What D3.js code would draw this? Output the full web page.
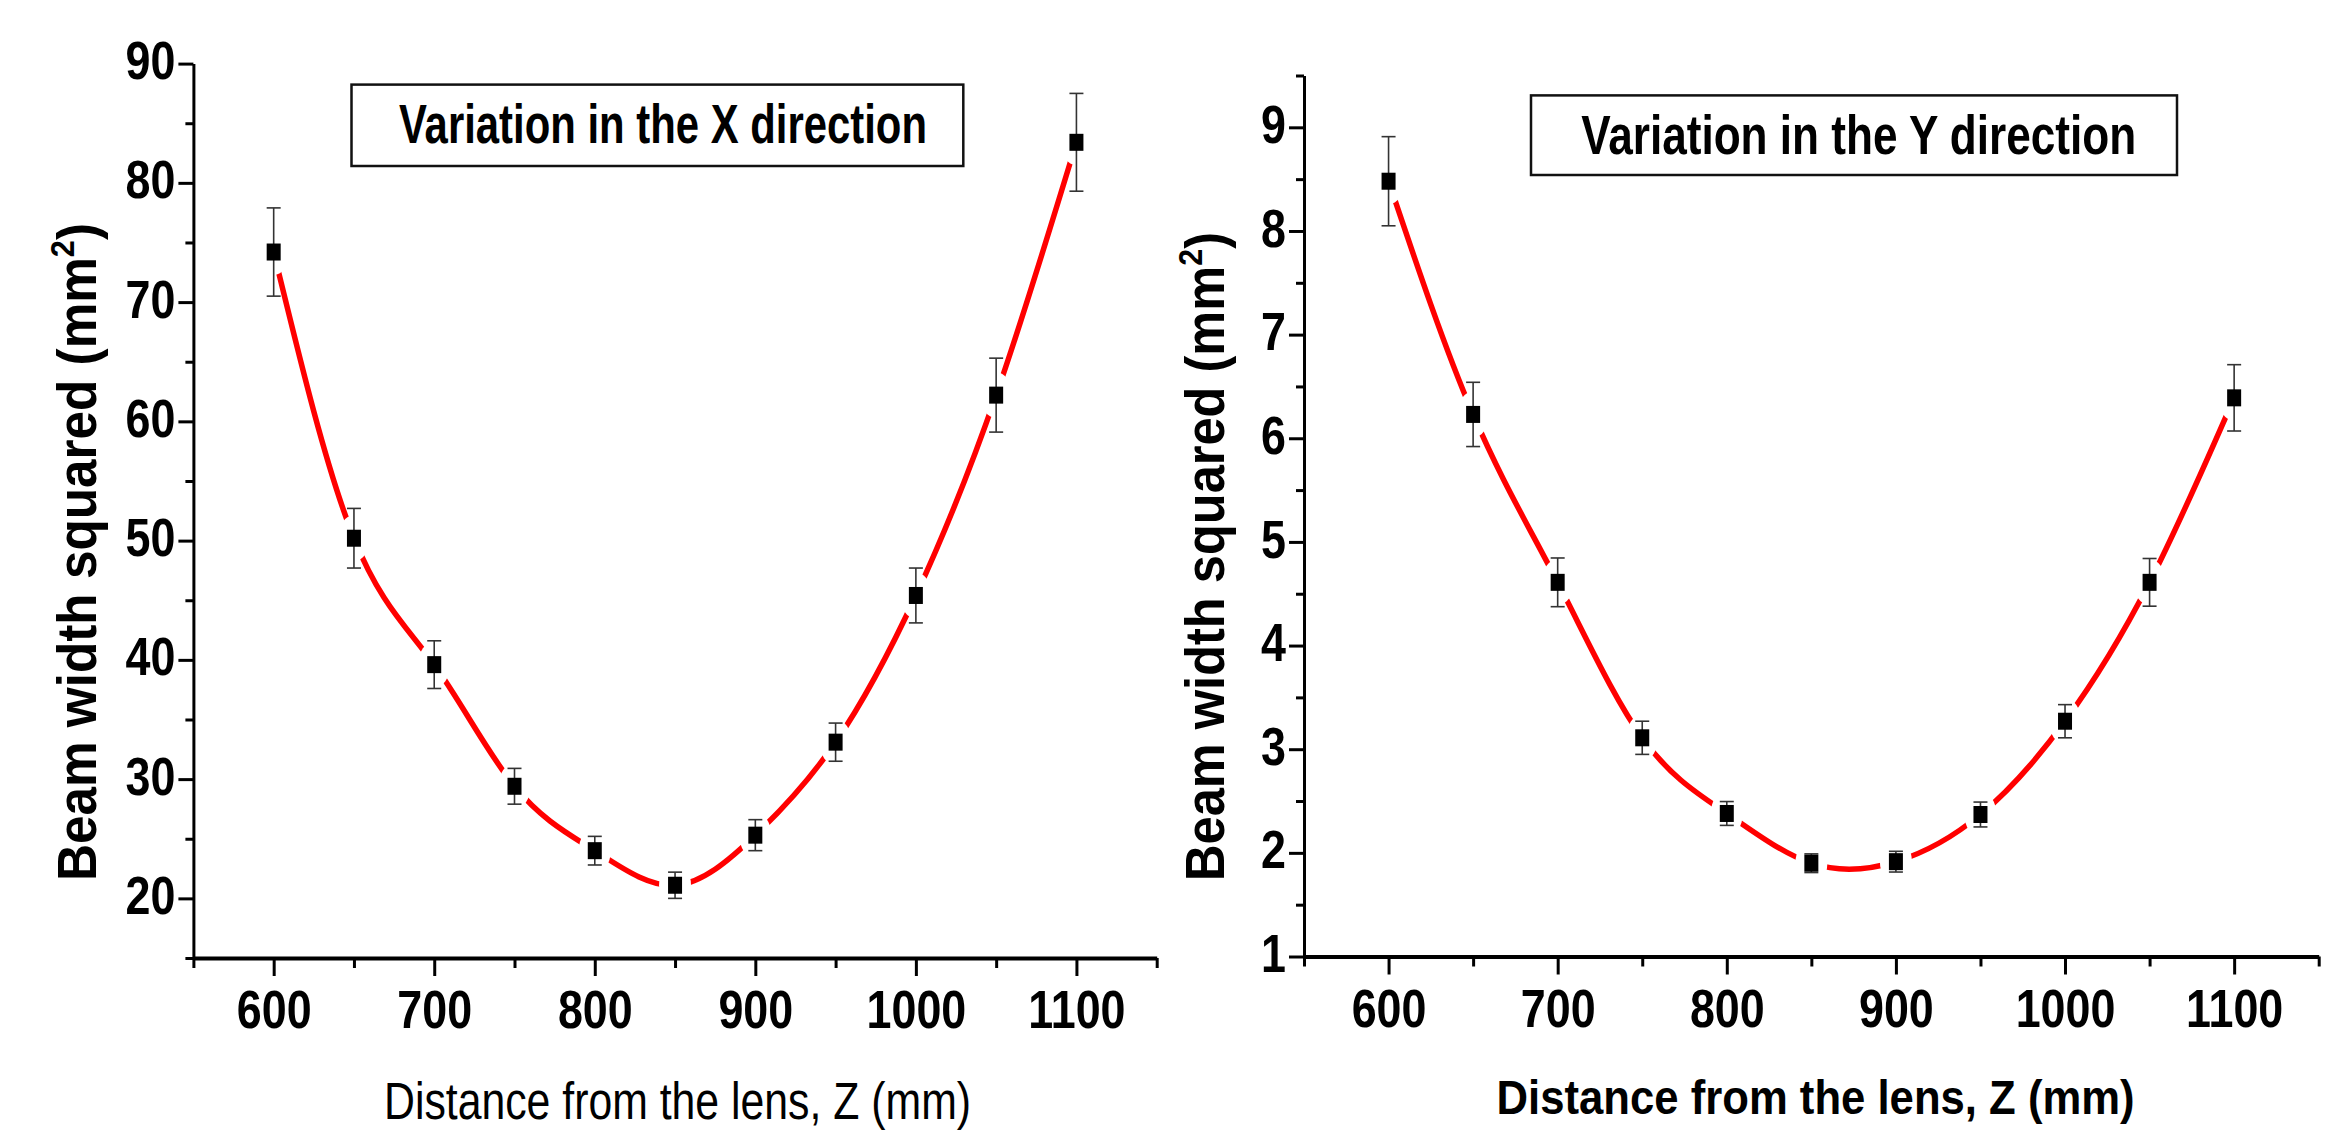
<!DOCTYPE html>
<html>
<head>
<meta charset="utf-8">
<script src="https://cdn.jsdelivr.net/npm/d3@7"></script>
<style>
  html, body { margin: 0; padding: 0; background: #fff; }
  svg { display: block; }
</style>
</head>
<body>
<svg id="chart" width="2347" height="1134"></svg>
<script>
// ---------- DATA ----------
const zPoints = [600, 650, 700, 750, 800, 850, 900, 950, 1000, 1050, 1100];

const xDirValues = [74.2, 50.2, 39.6, 29.4, 24.0, 21.1, 25.3, 33.1, 45.4, 62.2, 83.4];
const xDirErrors = [3.7, 2.5, 2.0, 1.5, 1.2, 1.1, 1.3, 1.6, 2.3, 3.1, 4.1];

const yDirValues = [8.48, 6.23, 4.61, 3.11, 2.38, 1.90, 1.915, 2.37, 3.27, 4.61, 6.39];
const yDirErrors = [0.43, 0.31, 0.235, 0.16, 0.115, 0.09, 0.10, 0.12, 0.16, 0.23, 0.32];

const xTickMajor = [600, 700, 800, 900, 1000, 1100];
const xTickMinor = [550, 650, 750, 850, 950, 1050, 1150];
const leftYMajor = [20, 30, 40, 50, 60, 70, 80, 90];
const leftYMinor = [15, 25, 35, 45, 55, 65, 75, 85];
const rightYMajor = [1, 2, 3, 4, 5, 6, 7, 8, 9];
const rightYMinor = [1.5, 2.5, 3.5, 4.5, 5.5, 6.5, 7.5, 8.5, 9.5];

const titleLeft = "Variation in the X direction";
const titleRight = "Variation in the Y direction";
const xAxisTitle = "Distance from the lens, Z (mm)";
const yAxisTitle = "Beam width squared (mm";

// ---------- DRAWING ----------
const svg = d3.select("#chart");
const FONT = "'Liberation Sans', Arial, sans-serif";
const NARROW_FACTOR = 0.83;

function narrow(sel, factor) {
  sel.each(function () {
    const w = this.getComputedTextLength();
    d3.select(this).attr("textLength", w * (factor || NARROW_FACTOR)).attr("lengthAdjust", "spacingAndGlyphs");
  });
}

function panel(cfg) {
  const x = d3.scaleLinear().domain([550, 1150]).range(cfg.xr);
  const y = d3.scaleLinear().domain(cfg.yDomain).range(cfg.yr);
  const g = svg.append("g");
  const x0 = cfg.xr[0], y0 = cfg.yr[0];

  // spline through the points
  const pts = zPoints.map((z, i) => [z, cfg.values[i]]);
  g.append("path").datum(pts)
    .attr("fill", "none").attr("stroke", "#ff0000").attr("stroke-width", 5.5)
    .attr("stroke-linecap", "round").attr("stroke-linejoin", "round")
    .attr("d", d3.line().x(d => x(d[0])).y(d => y(d[1])).curve(d3.curveNatural));

  // gaps around the symbols
  g.append("g").selectAll("ellipse").data(zPoints).enter().append("ellipse")
    .attr("cx", d => x(d)).attr("cy", (d, i) => y(cfg.values[i]))
    .attr("rx", 16).attr("ry", 23).attr("fill", "#fff");

  // minor ticks
  g.append("g").attr("transform", `translate(0,${y0})`)
    .call(d3.axisBottom(x).tickValues(xTickMinor).tickSize(10).tickFormat("").tickSizeOuter(0))
    .call(a => a.select(".domain").remove())
    .selectAll("line").attr("stroke", "#000").attr("stroke-width", 3);
  g.append("g").attr("transform", `translate(${x0},0)`)
    .call(d3.axisLeft(y).tickValues(cfg.yMinor).tickSize(8).tickFormat("").tickSizeOuter(0))
    .call(a => a.select(".domain").remove())
    .selectAll("line").attr("stroke", "#000").attr("stroke-width", 3);

  // major axes
  const xa = g.append("g").attr("transform", `translate(0,${y0})`)
    .call(d3.axisBottom(x).tickValues(xTickMajor).tickSize(18).tickPadding(14)
      .tickFormat(d3.format("d")).tickSizeOuter(0));
  xa.select(".domain").attr("stroke", "#000").attr("stroke-width", 4);
  xa.selectAll("line").attr("stroke", "#000").attr("stroke-width", 3);
  xa.selectAll("text").attr("fill", "#000").attr("font-family", FONT)
    .attr("font-weight", "bold").attr("font-size", 54).call(narrow);

  const ya = g.append("g").attr("transform", `translate(${x0},0)`)
    .call(d3.axisLeft(y).tickValues(cfg.yMajor).tickSize(15).tickPadding(3)
      .tickFormat(d3.format("d")).tickSizeOuter(0));
  ya.select(".domain").attr("stroke", "#000").attr("stroke-width", 3);
  ya.selectAll("line").attr("stroke", "#000").attr("stroke-width", 3);
  ya.selectAll("text").attr("fill", "#000").attr("font-family", FONT)
    .attr("font-weight", "bold").attr("font-size", 54).attr("dy", "0.28em").call(narrow);

  // error bars
  const eb = g.append("g").attr("stroke", "#333").attr("stroke-width", 1.6);
  zPoints.forEach((z, i) => {
    const v = cfg.values[i], e = cfg.errors[i];
    const cx = x(z);
    eb.append("line").attr("x1", cx).attr("x2", cx).attr("y1", y(v + e)).attr("y2", y(v - e));
    eb.append("line").attr("x1", cx - 7).attr("x2", cx + 7).attr("y1", y(v + e)).attr("y2", y(v + e));
    eb.append("line").attr("x1", cx - 7).attr("x2", cx + 7).attr("y1", y(v - e)).attr("y2", y(v - e));
  });

  // symbols
  g.append("g").selectAll("rect").data(zPoints).enter().append("rect")
    .attr("x", d => x(d) - 7).attr("y", (d, i) => y(cfg.values[i]) - 8.5)
    .attr("width", 14).attr("height", 17).attr("fill", "#000");

  // legend box
  const b = cfg.box;
  g.append("rect").attr("x", b[0]).attr("y", b[1]).attr("width", b[2] - b[0]).attr("height", b[3] - b[1])
    .attr("fill", "#fff").attr("stroke", "#111").attr("stroke-width", 2.5);
  g.append("text").attr("x", cfg.boxText[0]).attr("y", cfg.boxText[1])
    .attr("text-anchor", "middle").attr("font-family", FONT).attr("font-weight", "bold")
    .attr("font-size", 55).attr("textLength", cfg.boxText[2]).attr("lengthAdjust", "spacingAndGlyphs")
    .attr("fill", "#000").text(cfg.title);

  // x title
  g.append("text").attr("x", cfg.xTitle[0]).attr("y", cfg.xTitle[1])
    .attr("text-anchor", "middle").attr("font-family", FONT)
    .attr("font-weight", cfg.xTitleBold ? "bold" : "normal")
    .attr("font-size", cfg.xTitle[3]).attr("textLength", cfg.xTitle[2]).attr("lengthAdjust", "spacingAndGlyphs")
    .attr("fill", "#000").text(xAxisTitle);

  // y title
  const yt = g.append("text")
    .attr("transform", `translate(${cfg.yTitle[0]},${cfg.yTitle[1]}) rotate(-90)`)
    .attr("text-anchor", "middle").attr("font-family", FONT).attr("font-weight", "bold")
    .attr("font-size", 55).attr("textLength", cfg.yTitle[2]).attr("lengthAdjust", "spacingAndGlyphs")
    .attr("fill", "#000");
  yt.append("tspan").text(yAxisTitle);
  yt.append("tspan").attr("font-size", 33).attr("dy", -22).text("2");
  yt.append("tspan").attr("dy", 22).text(")");
}

panel({
  xr: [193.4, 1156.7], yr: [958, 63.6], yDomain: [15, 90],
  yMajor: leftYMajor, yMinor: leftYMinor,
  values: xDirValues, errors: xDirErrors,
  box: [351.5, 84.6, 963.3, 166], boxText: [663, 143, 528], title: titleLeft,
  xTitle: [677.5, 1119, 587, 51], xTitleBold: false,
  yTitle: [96, 552, 658]
});

panel({
  xr: [1304, 2318.7], yr: [956.5, 75.5], yDomain: [1, 9.5],
  yMajor: rightYMajor, yMinor: rightYMinor,
  values: yDirValues, errors: yDirErrors,
  box: [1531, 95.4, 2177, 175], boxText: [1858.7, 153.6, 555], title: titleRight,
  xTitle: [1815.6, 1114, 638, 49], xTitleBold: true,
  yTitle: [1224, 556.5, 649]
});
</script>
</body>
</html>
